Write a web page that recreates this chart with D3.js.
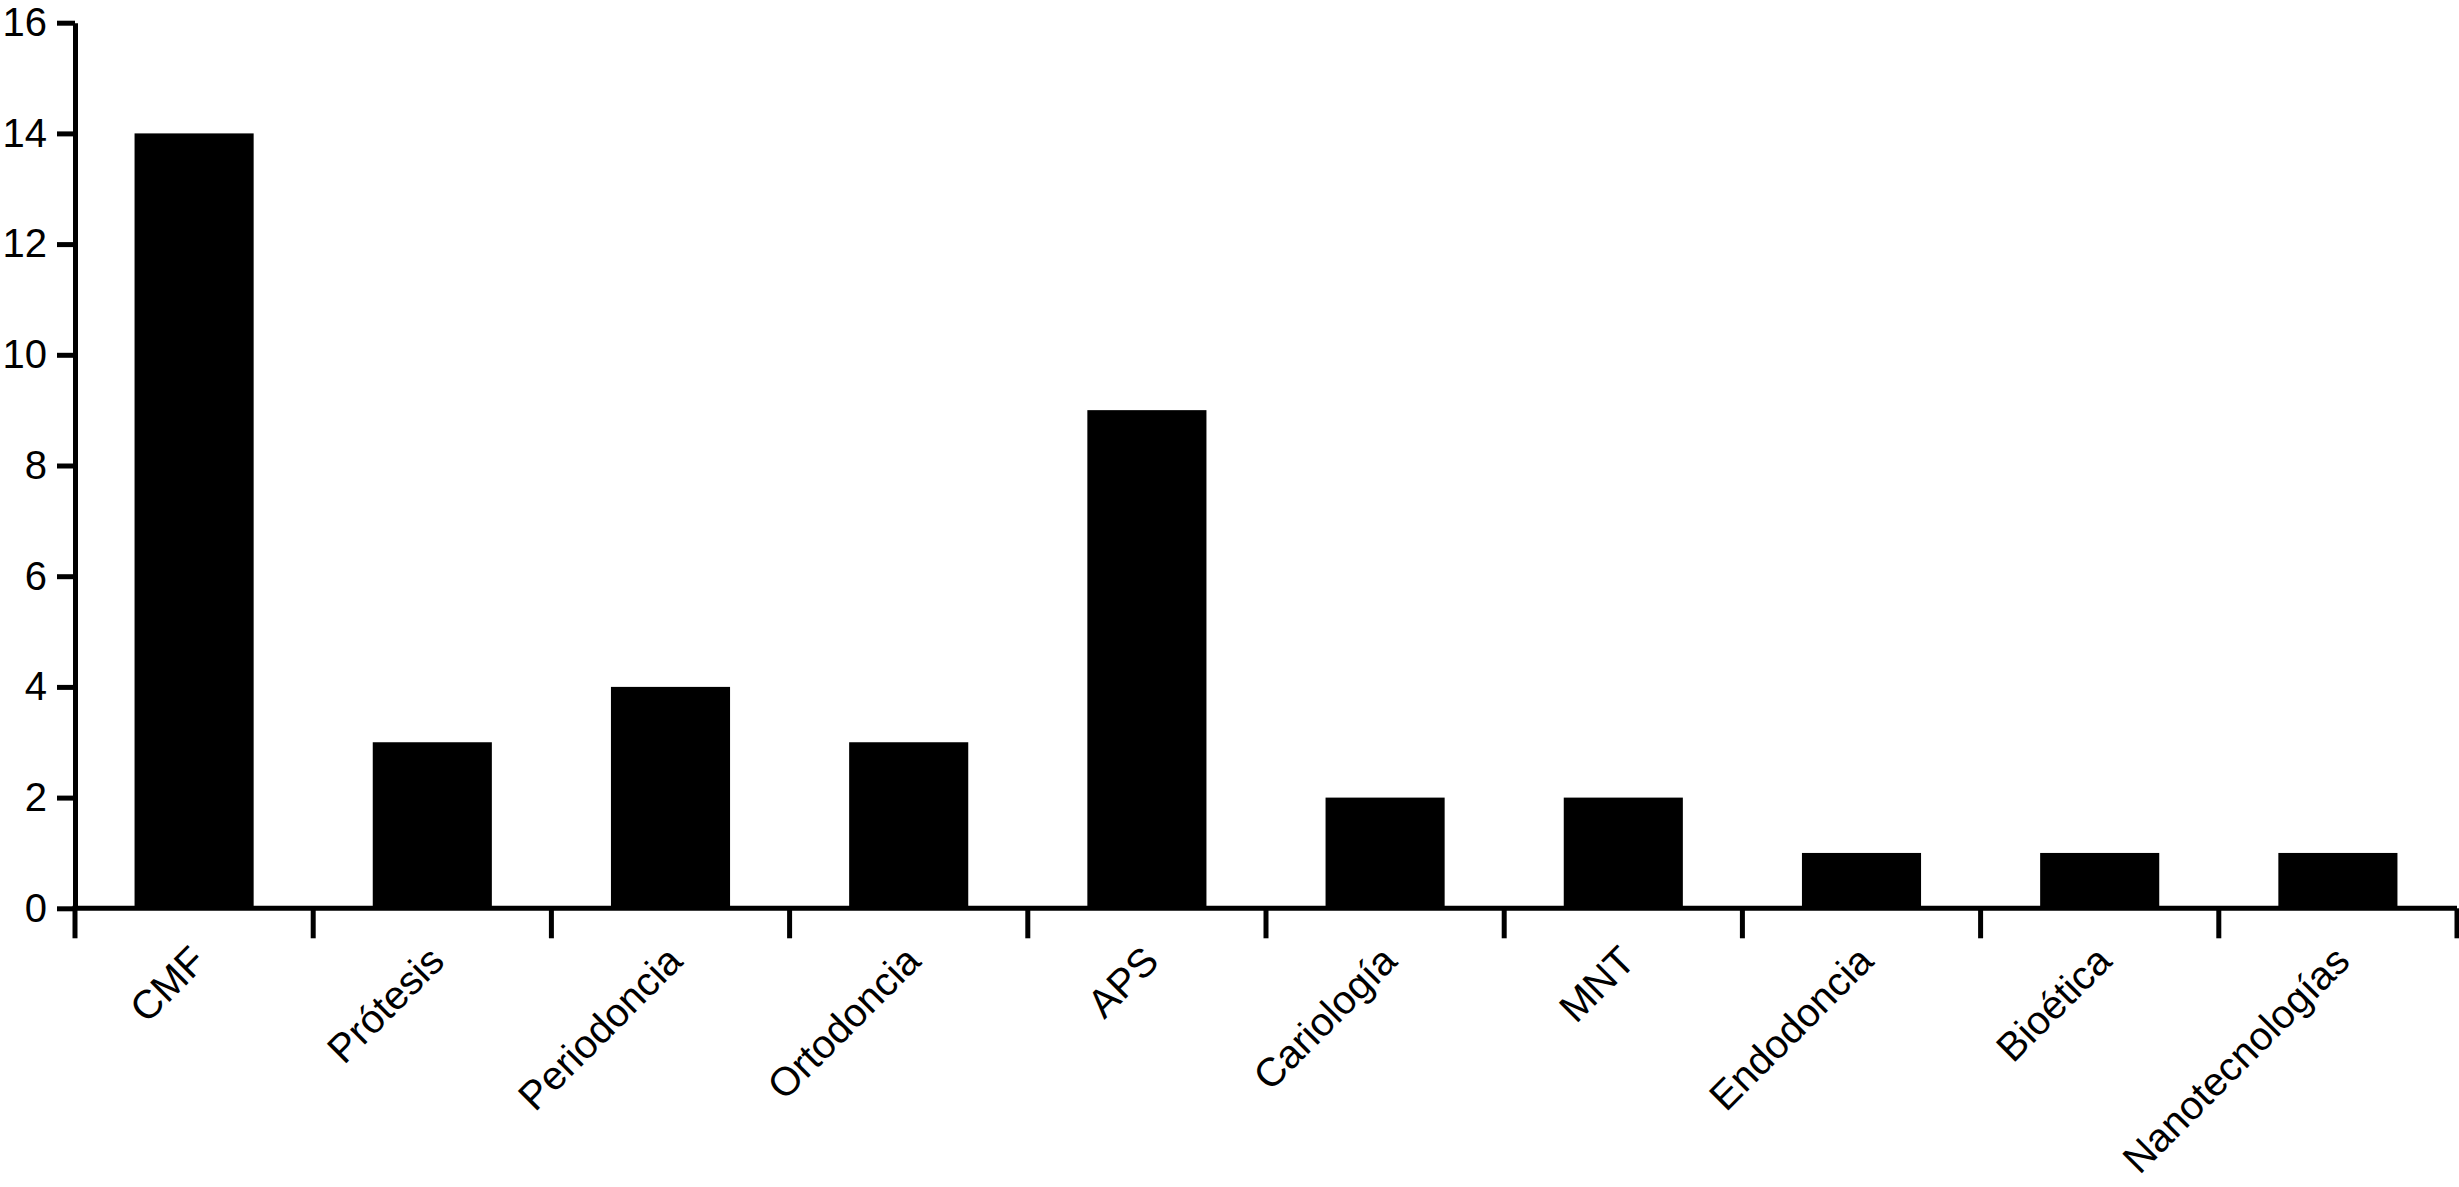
<!DOCTYPE html>
<html>
<head>
<meta charset="utf-8">
<script src="https://cdn.jsdelivr.net/npm/d3@7"></script>
<style>
  html, body { margin: 0; padding: 0; background: #fff; }
  svg { display: block; }
  text { font-family: "Liberation Sans", Arial, Helvetica, sans-serif; fill: #000; }
</style>
</head>
<body>
<svg id="chart" width="2459" height="1187"></svg>
<script>
const categories = ["CMF", "Prótesis", "Periodoncia", "Ortodoncia", "APS", "Cariología", "MNT", "Endodoncia", "Bioética", "Nanotecnologías"];
const values = [14, 3, 4, 3, 9, 2, 2, 1, 1, 1];
const yTicks = [0, 2, 4, 6, 8, 10, 12, 14, 16];

const svg = d3.select("#chart");

const x = d3.scaleBand().domain(categories).range([75, 2457]).padding(0);
const y = d3.scaleLinear().domain([0, 16]).range([908.3, 22.7]);
const bw = x.bandwidth();
const lw = 5;

// Bars
svg.append("g").selectAll("rect")
  .data(categories)
  .join("rect")
  .attr("x", d => x(d) + bw * 0.25)
  .attr("width", bw * 0.5)
  .attr("y", (d, i) => y(values[i]))
  .attr("height", (d, i) => y(0) - y(values[i]))
  .attr("fill", "#000");

// Y axis
const yAxis = svg.append("g")
  .attr("transform", `translate(${x.range()[0]},0)`)
  .call(d3.axisLeft(y).tickValues(yTicks).tickSize(18).tickSizeOuter(0).tickPadding(10));
yAxis.select(".domain").attr("stroke", "#000").attr("stroke-width", lw);
yAxis.selectAll(".tick line").attr("stroke", "#000").attr("stroke-width", lw);
yAxis.selectAll(".tick text").attr("font-size", 40).attr("font-family", "Liberation Sans, Arial, sans-serif");

// X axis baseline
const x0 = x.range()[0], x1 = x.range()[1];
svg.append("line")
  .attr("x1", x0 - 2.5).attr("x2", x1)
  .attr("y1", y(0)).attr("y2", y(0))
  .attr("stroke", "#000").attr("stroke-width", lw);

// X boundary ticks
const bounds = categories.map(d => x(d)).concat([x1]);
svg.append("g").selectAll("line")
  .data(bounds)
  .join("line")
  .attr("x1", d => d).attr("x2", d => d)
  .attr("y1", y(0)).attr("y2", y(0) + 30)
  .attr("stroke", "#000").attr("stroke-width", lw);

// X labels
svg.append("g").selectAll("text")
  .data(categories)
  .join("text")
  .attr("transform", d => `translate(${x(d) + bw / 2 + 14},${y(0) + 55}) rotate(-45)`)
  .attr("text-anchor", "end")
  .attr("font-size", 40)
  .text(d => d);
</script>
</body>
</html>
